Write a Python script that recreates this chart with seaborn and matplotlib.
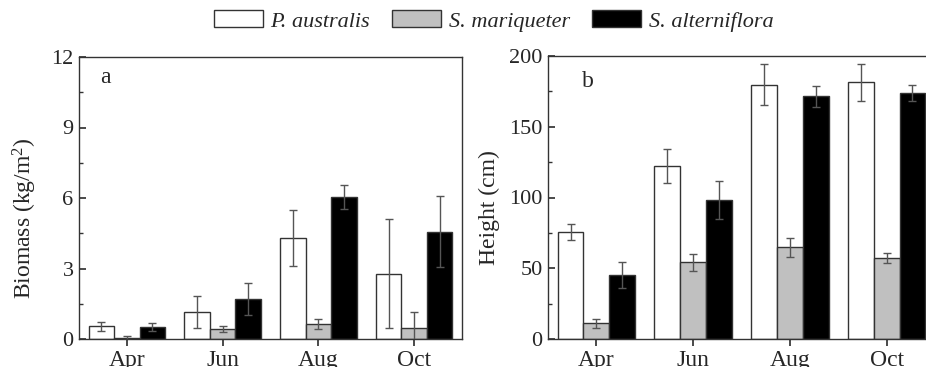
import matplotlib
matplotlib.use("Agg")
import matplotlib.pyplot as plt
from matplotlib.patches import Patch
from matplotlib.ticker import MultipleLocator
import seaborn as sns
import pandas as pd
import numpy as np

months = ["Apr", "Jun", "Aug", "Oct"]
species = ["P. australis", "S. mariqueter", "S. alterniflora"]
colors = ["#ffffff", "#c0c0c0", "#000000"]

biomass_p = [0.54, 1.13, 4.29, 2.77]
biomass_s = [0.03, 0.42, 0.65, 0.47]
biomass_a = [0.51, 1.71, 6.04, 4.57]
biomass_err_p = [0.18, 0.68, 1.19, 2.32]
biomass_err_s = [0.08, 0.14, 0.21, 0.69]
biomass_err_a = [0.17, 0.67, 0.50, 1.51]

height_p = [75.6, 122.5, 179.7, 181.4]
height_s = [11.1, 54.2, 64.8, 57.5]
height_a = [45.2, 98.5, 171.5, 174.1]
height_err_p = [5.9, 12.0, 14.4, 13.0]
height_err_s = [3.3, 6.0, 6.6, 3.5]
height_err_a = [9.4, 13.4, 7.5, 5.6]

sns.set_theme(style="white")
plt.rcParams["font.family"] = ["Liberation Serif", "DejaVu Serif"]
plt.rcParams["mathtext.default"] = "regular"
plt.rcParams["axes.edgecolor"] = "#333333"
plt.rcParams["axes.linewidth"] = 1.0


def make_df(vals):
    rows = []
    for sp, v in zip(species, vals):
        for m, val in zip(months, v):
            rows.append({"month": m, "species": sp, "value": val})
    return pd.DataFrame(rows)


W, H = 926, 367
fig = plt.figure(figsize=(W / 100, H / 100), dpi=100)
ax1 = fig.add_axes([79 / W, (H - 339) / H, (462 - 79) / W, (339 - 57) / H])
ax2 = fig.add_axes([548 / W, (H - 339) / H, (935 - 548) / W, (339 - 56) / H])


def draw(ax, vals, errs, ylim, major, minor, ylabel, lab_xy, letter, lx, ly):
    df = make_df(vals)
    sns.barplot(data=df, x="month", y="value", hue="species", order=months,
                hue_order=species, palette=colors, edgecolor="#333333",
                linewidth=1.0, errorbar=None, legend=False, ax=ax, width=0.8)
    for cont, e in zip(ax.containers, errs):
        xs = [p.get_x() + p.get_width() / 2 for p in cont.patches]
        hs = [p.get_height() for p in cont.patches]
        ax.errorbar(xs, hs, yerr=e, fmt="none", ecolor="#555555",
                    elinewidth=1.0, capsize=3, capthick=1.0, zorder=3)
    ax.set_xlim(-0.5, 3.5)
    ax.set_ylim(*ylim)
    ax.yaxis.set_major_locator(MultipleLocator(major))
    ax.yaxis.set_minor_locator(MultipleLocator(minor))
    ax.tick_params(axis="y", which="both", direction="in", left=True,
                   labelsize=16, pad=4, color="#333333")
    ax.tick_params(axis="y", which="major", length=5)
    ax.tick_params(axis="y", which="minor", length=3)
    ax.tick_params(axis="x", direction="out", bottom=True, length=5,
                   labelsize=17, pad=3, color="#333333")
    ax.set_xlabel("")
    ax.set_ylabel(ylabel, fontsize=17)
    ax.yaxis.set_label_coords(*lab_xy)
    ax.text(lx, ly, letter, transform=ax.transAxes, fontsize=17,
            va="baseline")
    for s in ax.spines.values():
        s.set_visible(True)


draw(ax1, [biomass_p, biomass_s, biomass_a],
     [biomass_err_p, biomass_err_s, biomass_err_a],
     (0, 12), 3, 1.5, "Biomass (kg/m$^{2}$)", (-0.105, 0.43),
     "a", 0.055, 0.908)
draw(ax2, [height_p, height_s, height_a],
     [height_err_p, height_err_s, height_err_a],
     (0, 200), 50, 25, "Height (cm)", (-0.124, 0.466),
     "b", 0.088, 0.89)

handles = [Patch(facecolor=c, edgecolor="#333333", linewidth=1.0) for c in colors]
fig.legend(handles, species, loc="center", bbox_to_anchor=(0.533, 1 - 21 / H),
           ncol=3, frameon=False, prop={"style": "italic", "size": 16},
           handlelength=2.2, handleheight=0.8, columnspacing=1.0,
           handletextpad=0.35, borderaxespad=0, borderpad=0)

fig.savefig("out.png", dpi=100)
